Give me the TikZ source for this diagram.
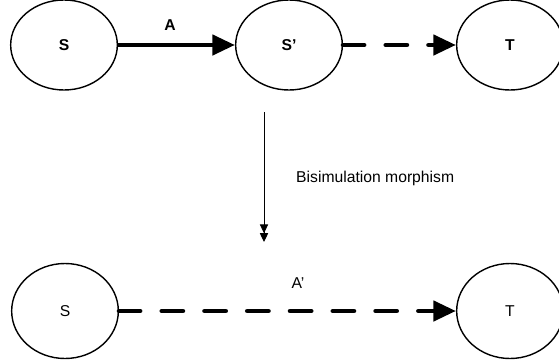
\documentclass[tikz,border=0pt]{standalone}
\usepackage{fontspec}
\setmainfont{Liberation Sans}
\usetikzlibrary{%
  arrows.meta,%
  positioning,%
  shapes.geometric% wg. ellipse
}

\begin{document}
\begin{tikzpicture}[
  x=0.03cm, y=-0.03cm,
  font=\fontsize{13.4}{16}\selectfont,
  state/.style={ellipse, inner sep=0pt, minimum width=3.2cm, minimum height=2.7cm, draw=black, line width=1.2pt},
  label/.style={inner sep=0pt},
  trans/.style={line width=4pt, -{Triangle[length=0.68cm, width=0.6cm]}},
  weak/.style={trans, line cap=round, dash pattern=on 18pt off 18.5pt},
  morph/.style={line width=0.8pt, -{Triangle[length=7.5pt, width=7pt] Triangle[length=7.5pt, width=7pt]}}
]
\useasboundingbox (0,0) rectangle (559,362);

% upper row
\node[state] (s) at (64,45) {\textbf{S}};
\node[state] (s2) at (289,45) {\textbf{S’}};
\node[state] (t) at (510,45) {\textbf{T}};
\node[label] (a) at (170,25) {\textbf{A}};

\draw[trans] (s) -- (s2);
\draw[weak] (s2) -- (t);

% morphism
\coordinate (m1) at (264,112);
\coordinate (m2) at (264,242);
\draw[morph] (m1) -- (m2);
\node[label, anchor=west] (bm) at (296,178) {Bisimulation morphism};

% lower row
\node[state, minimum height=2.85cm] (sl) at (65,311) {S};
\node[state, minimum height=2.85cm] (tl) at (510,311) {T};
\node[label] (a2) at (298,283) {A’};

\draw[weak] (sl) -- (tl);

\end{tikzpicture}
\end{document}
